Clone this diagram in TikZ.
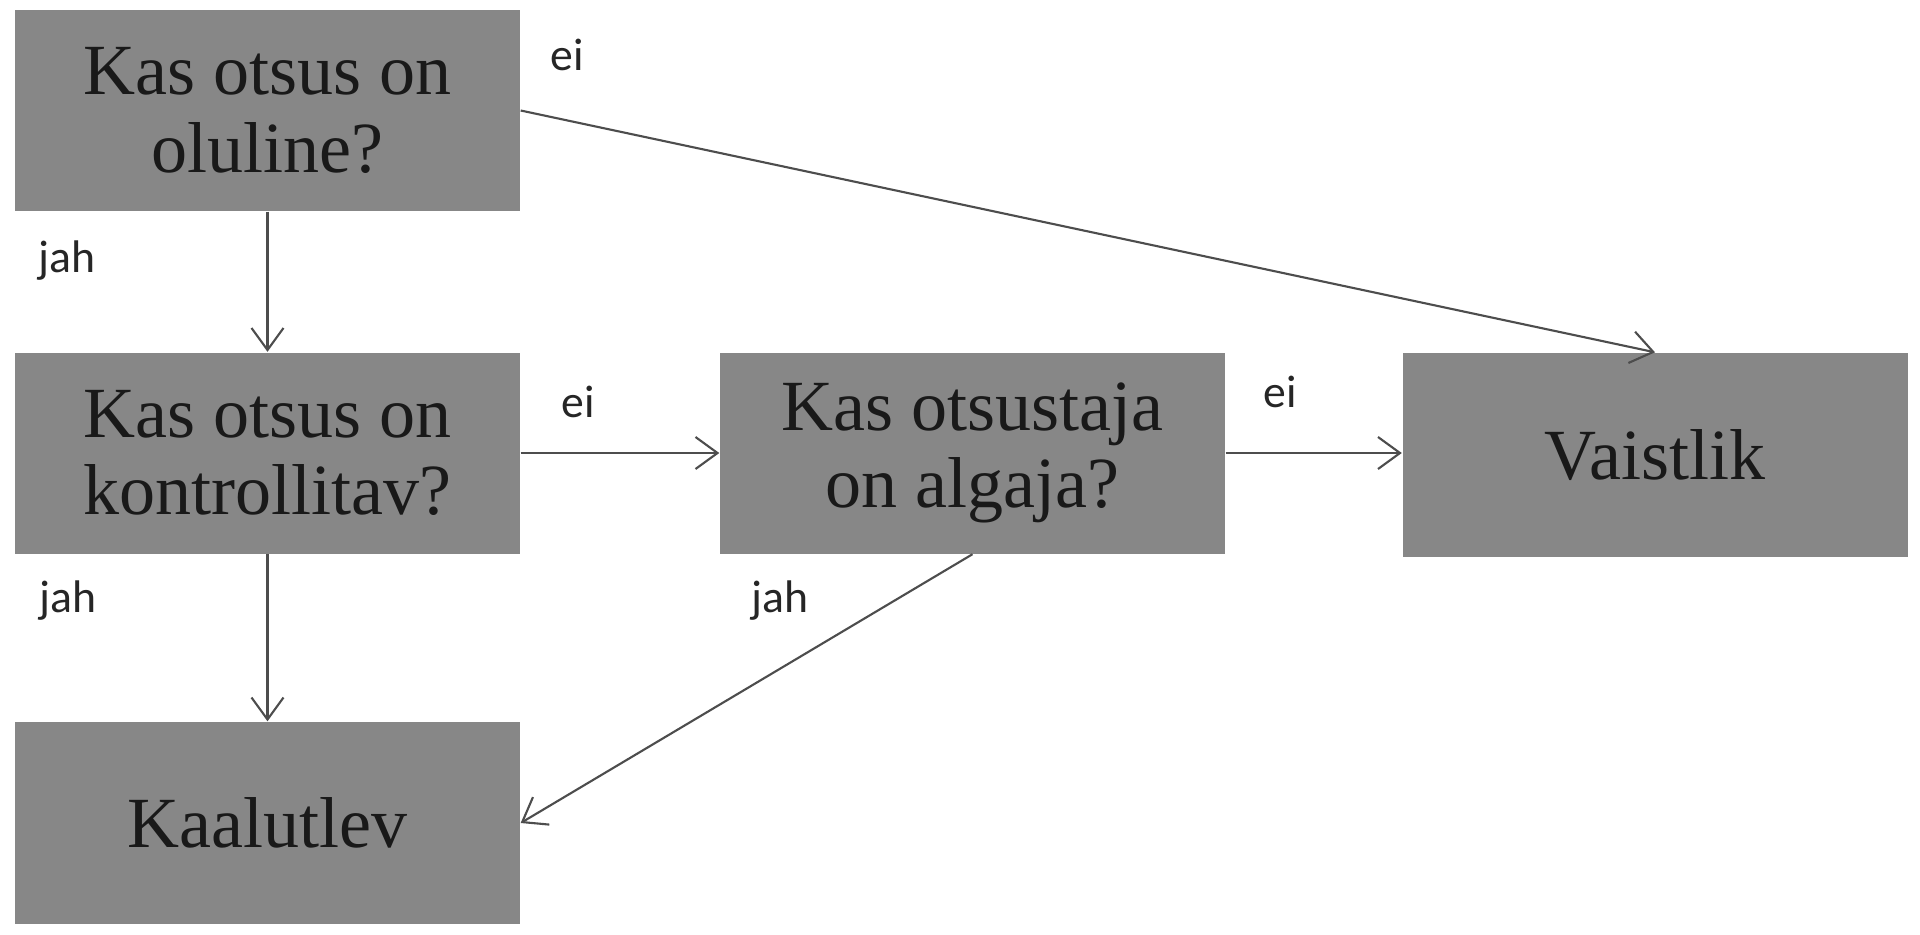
\documentclass[tikz,border=0pt]{standalone}
\usepackage{fontspec}
\setmainfont{Liberation Serif}
\newfontfamily\labelfont{Carlito}
\usepackage{xcolor}
\usetikzlibrary{arrows.meta}
\definecolor{boxgray}{HTML}{878787}
\definecolor{linegray}{HTML}{4D4D4D}

\begin{document}
\begin{tikzpicture}[x=0.1mm, y=-0.1mm,
    box/.style={rectangle, fill=boxgray, minimum width=50.5mm,
      minimum height=20.1mm, inner sep=0pt, align=center,
      text=black!90, font=\fontsize{20.5}{22}\selectfont},
    lbl/.style={text=black!85, font=\labelfont\fontsize{13}{15}\selectfont},
    arr/.style={draw=linegray, line width=0.6pt, ->},
    >={Straight Barb[length=2.2mm,width=3.2mm]}]

  \path[fill=white] (0,0) rectangle (1920,934);

  \node[box] (Q1) at (267.5,110.5) {Kas otsus on\\oluline?};
  \node[box] (Q2) at (267.5,453) {Kas otsus on\\kontrollitav?};
  \node[box] (Q3) at (972.5,453) {Kas otsustaja\\on algaja?};
  \node[box, minimum height=20.4mm] (V) at (1655,455) {Vaistlik};
  \node[box, minimum height=20.2mm] (K) at (267.5,823) {Kaalutlev};

  \node[lbl] (ei1) at (567,55) {ei};
  \node[lbl] (jah1) at (67,261) {jah};
  \node[lbl] (ei2) at (578,402) {ei};
  \node[lbl] (ei3) at (1280,392) {ei};
  \node[lbl] (jah2) at (68,601) {jah};
  \node[lbl] (jah3) at (780,601) {jah};

  \draw[arr] (Q1) -- (Q2);
  \draw[arr] (Q1.east) -- (V.north);
  \draw[arr] (Q2) -- (Q3);
  \draw[arr] (Q3.east) -- (V.west |- Q3.east);
  \draw[arr] (Q2) -- (K);
  \draw[arr] (Q3.south) -- (K.east);
\end{tikzpicture}
\end{document}
